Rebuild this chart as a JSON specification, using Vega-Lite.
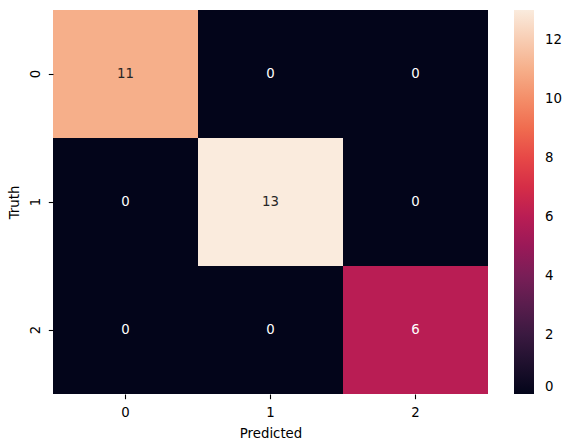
{
  "$schema": "https://vega.github.io/schema/vega-lite/v6.json",
  "width": 435,
  "height": 384,
  "autosize": "none",
  "padding": {"left": 53, "top": 10, "right": 83, "bottom": 54},
  "background": "white",
  "config": {
    "view": {"stroke": null},
    "font": "DejaVu Sans",
    "axis": {"labelFont": "DejaVu Sans", "titleFont": "DejaVu Sans", "labelFontSize": 13.3, "titleFontSize": 13.3, "titleFontWeight": "normal", "labelColor": "#000", "titleColor": "#000", "tickColor": "#000", "tickSize": 4.7, "tickWidth": 1.1, "domain": false, "grid": false},
    "legend": {"padding": 0, "labelFont": "DejaVu Sans", "labelFontSize": 13.3, "labelColor": "#000"}
  },
  "data": {
    "values": [
      {"Truth": "0", "Predicted": "0", "count": 11},
      {"Truth": "0", "Predicted": "1", "count": 0},
      {"Truth": "0", "Predicted": "2", "count": 0},
      {"Truth": "1", "Predicted": "0", "count": 0},
      {"Truth": "1", "Predicted": "1", "count": 13},
      {"Truth": "1", "Predicted": "2", "count": 0},
      {"Truth": "2", "Predicted": "0", "count": 0},
      {"Truth": "2", "Predicted": "1", "count": 0},
      {"Truth": "2", "Predicted": "2", "count": 6}
    ]
  },
  "encoding": {
    "x": {"field": "Predicted", "type": "ordinal", "scale": {"paddingInner": 0, "paddingOuter": 0}, "axis": {"labelAngle": 0, "labelPadding": 7, "titlePadding": 7}},
    "y": {"field": "Truth", "type": "ordinal", "scale": {"paddingInner": 0, "paddingOuter": 0}, "axis": {"labelAngle": -90, "labelAlign": "center", "labelBaseline": "bottom", "labelPadding": 6, "titlePadding": 7}}
  },
  "layer": [
    {
      "mark": {"type": "rect", "strokeWidth": 0},
      "encoding": {
        "color": {
          "field": "count",
          "type": "quantitative",
          "scale": {
            "domain": [0, 1.857, 3.714, 5.571, 7.429, 9.286, 11.143, 13],
            "range": ["#03051a", "#35193e", "#701f57", "#ad1759", "#e13342", "#f37651", "#f6b48f", "#faebdd"],
            "interpolate": "rgb"
          },
          "legend": {
            "title": null,
            "values": [0, 2, 4, 6, 8, 10, 12],
            "gradientLength": 384,
            "gradientThickness": 20,
            "gradientStrokeWidth": 0,
            "offset": 26,
            "labelOffset": 11,
            "labelBaseline": "middle",
            "labelOverlap": false
          }
        }
      }
    },
    {
      "mark": {"type": "text", "fontSize": 13.3, "font": "DejaVu Sans"},
      "encoding": {
        "text": {"field": "count", "type": "quantitative"},
        "color": {
          "condition": {"test": "datum.count > 9", "value": "#262626"},
          "value": "#ffffff"
        }
      }
    }
  ]
}
